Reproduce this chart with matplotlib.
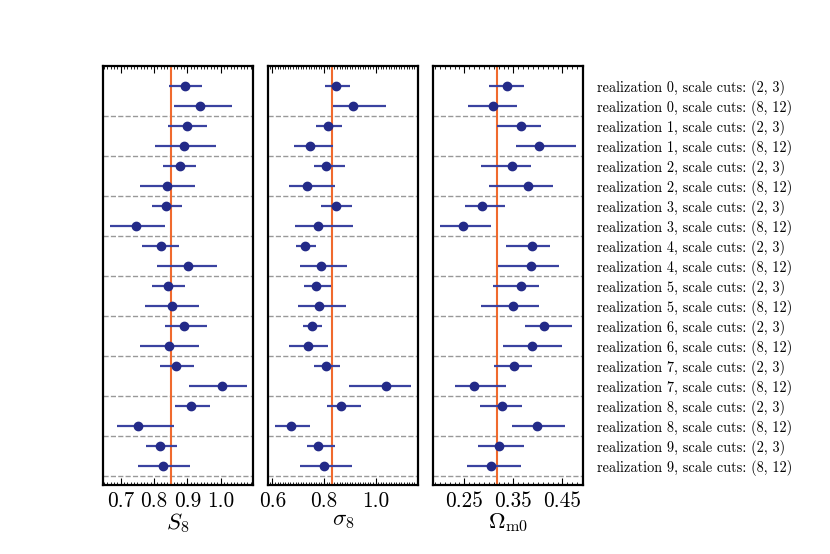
import matplotlib
matplotlib.use("Agg")
import matplotlib.pyplot as plt
from matplotlib.ticker import MultipleLocator
import numpy as np

plt.rcParams['font.family'] = ['cmr10', 'DejaVu Serif']
plt.rcParams['mathtext.fontset'] = 'cm'
plt.rcParams['axes.unicode_minus'] = False
plt.rcParams['axes.formatter.use_mathtext'] = True

labels = [f"realization {r}, scale cuts: {c}" for r in range(10) for c in ("(2, 3)", "(8, 12)")]

S8 = [0.893, 0.937, 0.900, 0.891, 0.877, 0.838, 0.836, 0.746, 0.820, 0.903,
      0.841, 0.853, 0.890, 0.846, 0.866, 1.003, 0.911, 0.753, 0.819, 0.828]
S8_lo = [0.846, 0.860, 0.843, 0.803, 0.827, 0.758, 0.794, 0.669, 0.765, 0.810,
         0.794, 0.774, 0.833, 0.758, 0.818, 0.906, 0.863, 0.688, 0.776, 0.751]
S8_hi = [0.945, 1.035, 0.958, 0.986, 0.926, 0.923, 0.883, 0.832, 0.875, 0.990,
         0.894, 0.934, 0.960, 0.935, 0.920, 1.078, 0.968, 0.861, 0.869, 0.907]

sig8 = [0.848, 0.912, 0.814, 0.747, 0.808, 0.734, 0.845, 0.778, 0.727, 0.788,
        0.770, 0.782, 0.755, 0.738, 0.806, 1.040, 0.867, 0.672, 0.778, 0.800]
sig8_lo = [0.804, 0.834, 0.768, 0.685, 0.762, 0.665, 0.787, 0.688, 0.692, 0.707,
           0.724, 0.698, 0.719, 0.665, 0.761, 0.898, 0.813, 0.610, 0.734, 0.706]
sig8_hi = [0.902, 1.041, 0.870, 0.836, 0.880, 0.841, 0.908, 0.911, 0.770, 0.888,
           0.827, 0.885, 0.793, 0.814, 0.863, 1.137, 0.942, 0.747, 0.841, 0.907]

Om = [0.3365, 0.308, 0.366, 0.402, 0.347, 0.379, 0.286, 0.248, 0.388, 0.3855,
      0.365, 0.349, 0.413, 0.388, 0.351, 0.2705, 0.326, 0.398, 0.3208, 0.3045]
Om_lo = [0.300, 0.2575, 0.317, 0.3555, 0.284, 0.300, 0.2514, 0.200, 0.335, 0.318,
         0.309, 0.283, 0.373, 0.329, 0.3106, 0.2316, 0.2814, 0.348, 0.278, 0.2555]
Om_hi = [0.372, 0.357, 0.407, 0.478, 0.386, 0.430, 0.332, 0.3045, 0.425, 0.443,
         0.402, 0.403, 0.470, 0.449, 0.388, 0.3345, 0.3678, 0.456, 0.371, 0.365]

truths = [0.85, 0.83, 0.316]
xlabels = [r'$S_8$', r'$\sigma_8$', r'$\Omega_{\rm m0}$']
xlims = [(0.647, 1.097), (0.583, 1.164), (0.186, 0.492)]
major_ticks = [[0.7, 0.8, 0.9, 1.0], [0.6, 0.8, 1.0], [0.25, 0.35, 0.45]]
major_labels = [["0.7", "0.8", "0.9", "1.0"], ["0.6", "0.8", "1.0"], ["0.25", "0.35", "0.45"]]
separators = [1.5 + 2 * k for k in range(10)]

data = [(S8, S8_lo, S8_hi), (sig8, sig8_lo, sig8_hi), (Om, Om_lo, Om_hi)]

fig = plt.figure(figsize=(8.3, 5.54), dpi=100)
W, H = 830, 554
lefts = [103, 268, 433]
axw = 150
top, bot = 66, 485

dot_col = '#232a88'
line_col = '#3a42a0'
orange = '#f06a2e'

y = np.arange(len(labels))
for i in range(3):
    ax = fig.add_axes([lefts[i] / W, 1 - bot / H, axw / W, (bot - top) / H])
    val, lo, hi = [np.array(a) for a in data[i]]
    for s in separators:
        ax.axhline(s, color='#999999', ls='--', lw=1.0, zorder=1)
    ax.axvline(truths[i], color=orange, lw=1.5, zorder=2)
    ax.errorbar(val, y, xerr=[val - lo, hi - val], fmt='o', color=dot_col,
                ecolor=line_col, elinewidth=1.6, markersize=6, capsize=0, zorder=3)
    ax.set_xlim(*xlims[i])
    ax.set_ylim(19.95, -1)
    ax.set_xticks(major_ticks[i])
    ax.set_xticklabels(major_labels[i])
    ax.xaxis.set_minor_locator(MultipleLocator(0.01))
    ax.tick_params(axis='x', which='both', direction='in', top=True, bottom=True,
                   labelsize=15.3, pad=5)
    ax.tick_params(axis='x', which='major', length=5, width=0.8)
    ax.tick_params(axis='x', which='minor', length=2.5, width=0.6)
    ax.set_xlabel(xlabels[i], fontsize=16.5, labelpad=0)
    for sp in ax.spines.values():
        sp.set_linewidth(1.6)
    if i == 2:
        ax.yaxis.tick_right()
        ax.set_yticks(y)
        ax.set_yticklabels(labels, fontsize=10.3)
        ax.tick_params(axis='y', which='both', length=0, pad=10)
    else:
        ax.set_yticks([])

fig.savefig('out.png', dpi=100)
